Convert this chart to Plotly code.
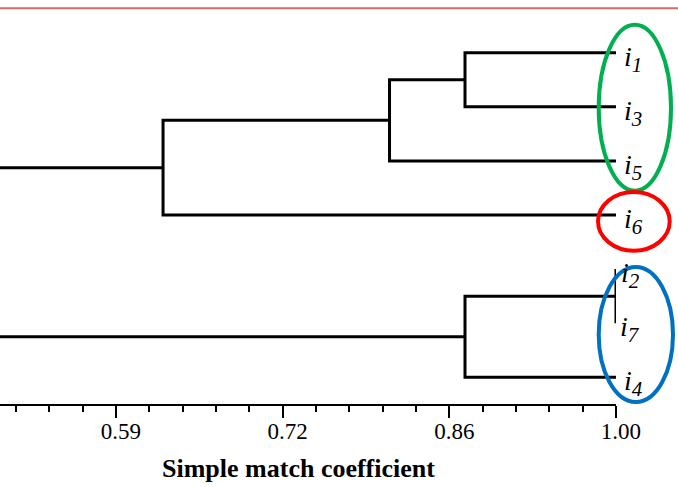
import plotly.graph_objects as go

# ---------------- data ----------------
# leaves in display order (top to bottom)
leaf_names = ["i1", "i3", "i5", "i6", "i2", "i7", "i4"]
leaf_sub = ["1", "3", "5", "6", "2", "7", "4"]
# agglomerative merges: node ids 0..6 are leaves, new nodes numbered 7, 8, ...
merge_a = [4, 0, 7, 8, 10, 11]
merge_b = [5, 1, 6, 2, 3, 9]
merge_sim = [1.0, 0.875, 0.875, 0.8125, 0.625, 0.40]  # simple match coefficient
tick_vals = [0.586, 0.724, 0.862, 1.0]
tick_text = ["0.59", "0.72", "0.86", "1.00"]
axis_title = "Simple match coefficient"

# ---------------- layout constants ----------------
W, H = 678, 487
ML, MR, MT, MB = 0, 62, 0, 83
PW, PH = W - ML - MR, H - MT - MB
X0 = 0.49
px_per_unit = 1207.8
x_range = [X0, X0 + PW / px_per_unit]
leaf_top_px, leaf_step_px = 52.7, 54.1
y_range = [(PH - leaf_top_px) / leaf_step_px, -leaf_top_px / leaf_step_px]

SERIF = "Liberation Serif, Times New Roman, serif"
# per-label horizontal offsets (px) – the tied pair sits a little further left
label_dx = {"i2": 3, "i7": 2}

# node positions
node_x = [1.0] * len(leaf_names)
node_y = list(range(len(leaf_names)))

fig = go.Figure()
for a, b, s in zip(merge_a, merge_b, merge_sim):
    xs = [node_x[a], s, s, node_x[b]]
    ys = [node_y[a], node_y[a], node_y[b], node_y[b]]
    fig.add_trace(go.Scatter(x=xs, y=ys, mode="lines",
                             line=dict(color="black", width=3),
                             hoverinfo="skip", showlegend=False))
    node_x.append(s)
    node_y.append((node_y[a] + node_y[b]) / 2)

# leaf labels
for k, (name, sub) in enumerate(zip(leaf_names, leaf_sub)):
    fig.add_annotation(x=1.0, y=k, xref="x", yref="y",
                       text=f"<i>i<sub><span style='font-size:21px'>{sub}</span></sub></i>",
                       showarrow=False,
                       xanchor="left", yanchor="middle",
                       xshift=label_dx.get(name, 6), yshift=-6,
                       font=dict(family=SERIF, size=28, color="black"))

# axis title
fig.add_annotation(x=298.5 / PW, y=(PH - 469) / PH, xref="paper", yref="paper",
                   text=f"<b>{axis_title}</b>", showarrow=False,
                   xanchor="center", yanchor="middle",
                   font=dict(family=SERIF, size=26, color="black"))

def ppx(px):
    return (px - ML) / PW

def ppy(py):
    return (PH - (py - MT)) / PH

# cluster ellipses (pixel boxes of stroke centre)
ellipses = [
    (598.7, 24.7, 671.0, 190.7, "#00b050"),
    (598.0, 192.0, 669.7, 250.7, "#ff0000"),
    (598.7, 267.0, 673.0, 402.0, "#0070c0"),
]
for x0, y0, x1, y1, c in ellipses:
    fig.add_shape(type="circle", xref="paper", yref="paper",
                  x0=ppx(x0), x1=ppx(x1), y0=ppy(y1), y1=ppy(y0),
                  line=dict(color=c, width=4))

# thin red rule at top
fig.add_shape(type="line", xref="paper", yref="paper",
              x0=ppx(0), x1=ppx(W), y0=ppy(8.3), y1=ppy(8.3),
              line=dict(color="#d66a6a", width=2))

fig.update_layout(
    width=W, height=H,
    margin=dict(l=ML, r=MR, t=MT, b=MB),
    paper_bgcolor="white", plot_bgcolor="white",
    showlegend=False,
    xaxis=dict(range=x_range, showgrid=False, zeroline=False,
               showline=True, linecolor="black", linewidth=2,
               ticks="outside", ticklen=12, tickwidth=1.5, tickcolor="black",
               tickvals=tick_vals, ticktext=tick_text,
               tickfont=dict(family=SERIF, size=23, color="black"),
               ticklabelshift=5, ticklabelstandoff=-7,
               minor=dict(tick0=1.0, dtick=0.0276, ticks="outside",
                          ticklen=6, tickwidth=1.5, tickcolor="black",
                          showgrid=False),
               automargin=False, fixedrange=True),
    yaxis=dict(range=y_range, visible=False, automargin=False,
               fixedrange=True),
)

fig.write_html("out.html", config={"displayModeBar": False},
               post_script="document.body.style.margin='0px';document.body.style.overflow='hidden';")
